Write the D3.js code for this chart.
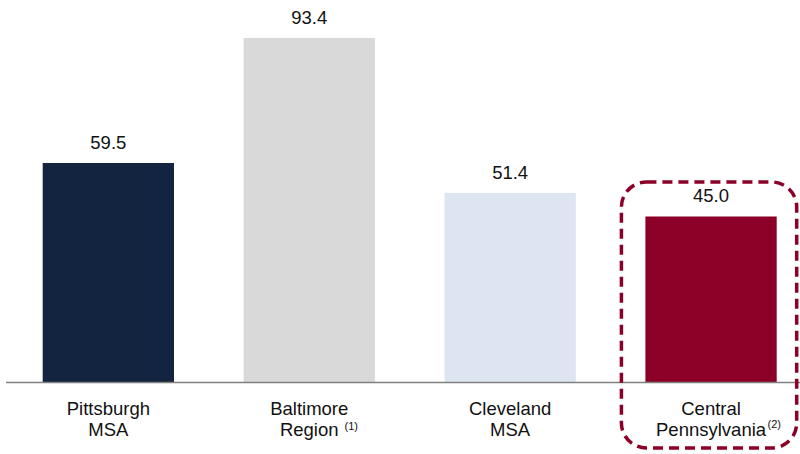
<!DOCTYPE html>
<html>
<head>
<meta charset="utf-8">
<script src="https://cdn.jsdelivr.net/npm/d3@7/dist/d3.min.js"></script>
<style>
  html, body { margin: 0; padding: 0; background: #ffffff; }
  svg { display: block; }
  text { font-family: "Liberation Sans", Arial, sans-serif; fill: #111111; }
</style>
</head>
<body>
<svg id="chart" width="800" height="454"></svg>
<script>
// Regions compared
const categories = ["Pittsburgh MSA", "Baltimore Region", "Cleveland MSA", "Central Pennsylvania"];
const values = [59.5, 93.4, 51.4, 45.0];
const labelLines = [["Pittsburgh", "MSA"], ["Baltimore", "Region"], ["Cleveland", "MSA"], ["Central", "Pennsylvania"]];
const footnotes = ["", "(1)", "", "(2)"];
const barColors = ["#12243f", "#d9d9d9", "#dde5f2", "#8c0028"];
const highlighted = "Central Pennsylvania";

const svg = d3.select("#chart");
const baseline = 382.5;

const x = d3.scaleBand()
  .domain(categories)
  .range([7.9, 811.5])
  .paddingInner(0.3465)
  .paddingOuter(0.1732);

const y = d3.scaleLinear()
  .domain([0, 100])
  .range([baseline, baseline - 368.9]);

// bars
svg.append("g").selectAll("rect")
  .data(categories)
  .join("rect")
  .attr("x", d => x(d))
  .attr("y", (d, i) => y(values[i]))
  .attr("width", x.bandwidth())
  .attr("height", (d, i) => y(0) - y(values[i]))
  .attr("fill", (d, i) => barColors[i]);

// value labels
svg.append("g").selectAll("text")
  .data(categories)
  .join("text")
  .attr("x", d => x(d) + x.bandwidth() / 2)
  .attr("y", (d, i) => y(values[i]) - 14)
  .attr("text-anchor", "middle")
  .style("font-size", "18.5px")
  .text((d, i) => values[i].toFixed(1));

// baseline axis
const axis = d3.axisBottom(x).tickSize(0).tickFormat("");
const axisG = svg.append("g")
  .attr("transform", `translate(0,${baseline})`)
  .call(axis);
axisG.select(".domain")
  .attr("d", "M6,0H800")
  .attr("stroke", "#808080")
  .attr("stroke-width", 1.5);

// category labels with footnote markers
const supOffset = [0, 6, 0, 1.5];
const supBaseline = [0, 430, 0, 427.5];
const catG = svg.append("g");
categories.forEach((c, i) => {
  const cx = x(c) + x.bandwidth() / 2;
  const lines = labelLines[i];
  let last;
  lines.forEach((ln, j) => {
    last = catG.append("text")
      .attr("x", cx)
      .attr("y", 414.5 + j * 21)
      .attr("text-anchor", "middle")
      .style("font-size", "18.5px")
      .text(ln);
  });
  if (footnotes[i]) {
    const w = last.node().getComputedTextLength();
    catG.append("text")
      .attr("x", cx + w / 2 + supOffset[i])
      .attr("y", supBaseline[i])
      .attr("text-anchor", "start")
      .style("font-size", "11px")
      .text(footnotes[i]);
  }
});

// dashed frame around the highlighted region
const hx = x(highlighted);
svg.append("rect")
  .attr("x", hx - 24)
  .attr("y", y(45.0) - 34.5)
  .attr("width", x.bandwidth() + 44)
  .attr("height", 448 - (y(45.0) - 34.5))
  .attr("rx", 25)
  .attr("ry", 25)
  .attr("fill", "none")
  .attr("stroke", "#8c0028")
  .attr("stroke-width", 3.5)
  .attr("stroke-dasharray", "10,6");
</script>
</body>
</html>
